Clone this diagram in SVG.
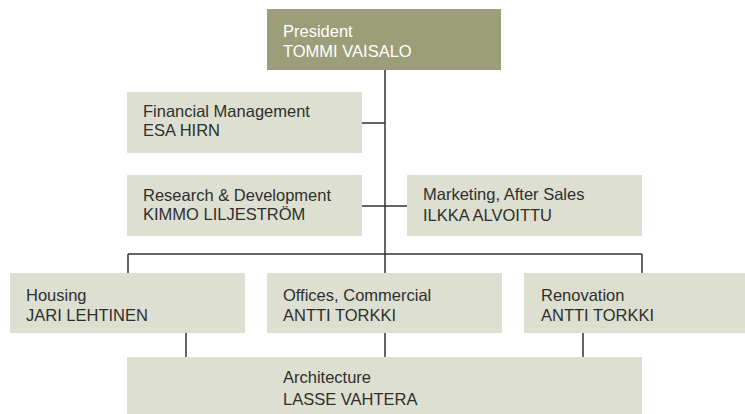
<svg xmlns="http://www.w3.org/2000/svg" width="745" height="414" viewBox="0 0 745 414">
<style>
.box{fill:#dddfd1}
.top{fill:#9c9e7a}
.t{font-family:"Liberation Sans",Arial,sans-serif;font-size:16.5px;fill:#2f2f2f}
.tw{font-family:"Liberation Sans",Arial,sans-serif;font-size:16.5px;fill:#ffffff}
.ln{stroke:#333;stroke-width:1.5;fill:none}
</style>
<rect width="745" height="414" fill="#ffffff"/>
<g id="connectors">
<path class="ln" d="M385 70V273M362 123H385M362 206H407M128 254H642M128 254V273M642 254V273M186 333V357M385 333V357M583 333V357"/>
</g>
<g id="president">
<rect class="top" x="267" y="9" width="234" height="61"/>
<text class="tw" x="283" y="37">President</text>
<text class="tw" x="283" y="57">TOMMI VAISALO</text>
</g>
<g id="financial">
<rect class="box" x="127" y="92" width="235" height="61"/>
<text class="t" x="143" y="117">Financial Management</text>
<text class="t" x="143" y="136">ESA HIRN</text>
</g>
<g id="research">
<rect class="box" x="127" y="175" width="235" height="61"/>
<text class="t" x="143" y="201">Research &amp; Development</text>
<text class="t" x="143" y="220">KIMMO LILJESTRÖM</text>
</g>
<g id="marketing">
<rect class="box" x="407" y="175" width="235" height="61"/>
<text class="t" x="423" y="200">Marketing, After Sales</text>
<text class="t" x="423" y="221">ILKKA ALVOITTU</text>
</g>
<g id="housing">
<rect class="box" x="10" y="273" width="235" height="60"/>
<text class="t" x="26" y="301">Housing</text>
<text class="t" x="26" y="321">JARI LEHTINEN</text>
</g>
<g id="offices">
<rect class="box" x="267" y="273" width="235" height="60"/>
<text class="t" x="283" y="301">Offices, Commercial</text>
<text class="t" x="283" y="321">ANTTI TORKKI</text>
</g>
<g id="renovation">
<rect class="box" x="524" y="273" width="221" height="60"/>
<text class="t" x="541" y="301">Renovation</text>
<text class="t" x="541" y="321">ANTTI TORKKI</text>
</g>
<g id="architecture">
<rect class="box" x="127" y="357" width="515" height="57"/>
<text class="t" x="283" y="383">Architecture</text>
<text class="t" x="283" y="405">LASSE VAHTERA</text>
</g>
</svg>
